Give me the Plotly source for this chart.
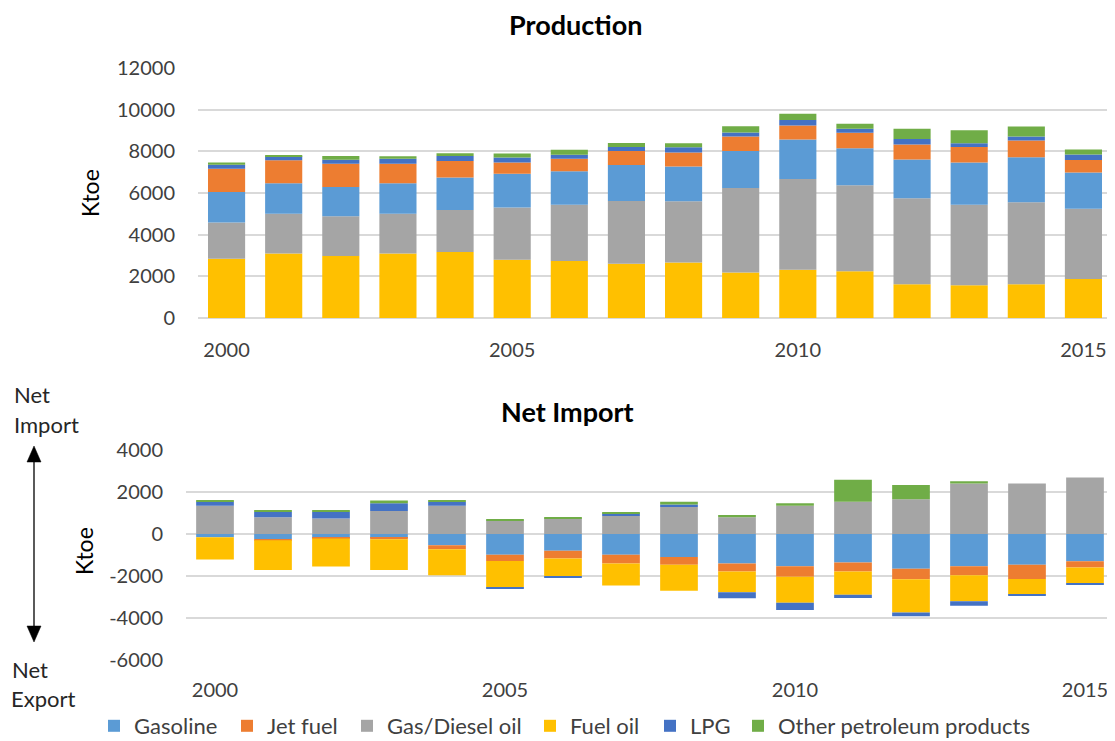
import plotly.graph_objects as go

years = list(range(2000, 2016))

# Production (ktoe)
prod_fuel_oil = [2850, 3100, 2980, 3100, 3170, 2800, 2740, 2610, 2670, 2180, 2320, 2240, 1620, 1570, 1620, 1870]
prod_gas_diesel = [1730, 1900, 1900, 1900, 2020, 2510, 2700, 3010, 2940, 4060, 4350, 4130, 4130, 3870, 3940, 3380]
prod_gasoline = [1470, 1470, 1410, 1470, 1550, 1620, 1600, 1730, 1660, 1780, 1900, 1780, 1860, 2030, 2160, 1730]
prod_jet_fuel = [1120, 1100, 1120, 930, 800, 540, 610, 670, 670, 690, 670, 740, 720, 740, 800, 610]
prod_lpg = [190, 190, 190, 240, 240, 240, 190, 190, 260, 190, 260, 190, 260, 180, 190, 260]
prod_other = [110, 65, 175, 130, 130, 190, 240, 190, 190, 300, 300, 240, 500, 620, 480, 240]

# Net import (ktoe)
imp_gasoline = [-150, -240, -190, -190, -540, -990, -800, -990, -1100, -1410, -1540, -1360, -1660, -1540, -1470, -1300]
imp_jet_fuel = [0, -60, -20, -60, -190, -300, -370, -420, -370, -370, -500, -430, -500, -430, -670, -300]
imp_gas_diesel = [1340, 800, 740, 1100, 1340, 640, 740, 860, 1280, 800, 1340, 1540, 1660, 2400, 2400, 2690]
imp_fuel_oil = [-1060, -1410, -1340, -1460, -1230, -1260, -850, -1040, -1230, -990, -1230, -1100, -1580, -1230, -750, -740]
imp_lpg_pos = [210, 260, 320, 370, 190, 0, 0, 130, 130, 0, 0, 0, 0, 0, 0, 0]
imp_lpg_neg = [0, 0, 0, 0, 0, -70, -60, 0, 0, -290, -350, -160, -180, -220, -50, -60]
imp_other = [50, 60, 60, 130, 60, 50, 60, 60, 130, 110, 130, 1040, 670, 110, 0, 0]

tick_years = [2000, 2005, 2010, 2015]
prod_ticks = [0, 2000, 4000, 6000, 8000, 10000, 12000]
imp_ticks = [-6000, -4000, -2000, 0, 2000, 4000]

legend_names = ["Gasoline", "Jet fuel", "Gas/Diesel oil", "Fuel oil", "LPG", "Other petroleum products"]

C_GASOLINE = "#5B9BD5"
C_JET = "#ED7D31"
C_GASDIESEL = "#A5A5A5"
C_FUEL = "#FFC000"
C_LPG = "#4472C4"
C_OTHER = "#70AD47"

FONT = "Lato"
# page body adds an 8px margin; size the figure to fit the 1115x741 window
OFF = 8
W, H = 1115 - OFF, 741 - OFF

def px_x(x):
    return (x - OFF) / W

def px_y(y):
    return 1 - (y - OFF) / H

fig = go.Figure()

# Production subplot (x, y) - stacking bottom to top
for name, vals, col in [
    ("Fuel oil", prod_fuel_oil, C_FUEL),
    ("Gas/Diesel oil", prod_gas_diesel, C_GASDIESEL),
    ("Gasoline", prod_gasoline, C_GASOLINE),
    ("Jet fuel", prod_jet_fuel, C_JET),
    ("LPG", prod_lpg, C_LPG),
    ("Other petroleum products", prod_other, C_OTHER),
]:
    fig.add_trace(go.Bar(x=years, y=vals, name=name, marker=dict(color=col, line=dict(width=0)),
                         xaxis="x", yaxis="y", showlegend=False, legendgroup=name))

# Net import subplot (x2, y2)
legend_ids = {n: ("legend" if i == 0 else f"legend{i + 1}") for i, n in enumerate(legend_names)}
for name, vals, col, show in [
    ("Gasoline", imp_gasoline, C_GASOLINE, True),
    ("Jet fuel", imp_jet_fuel, C_JET, True),
    ("Gas/Diesel oil", imp_gas_diesel, C_GASDIESEL, True),
    ("Fuel oil", imp_fuel_oil, C_FUEL, True),
    ("LPG", imp_lpg_pos, C_LPG, True),
    ("LPG", imp_lpg_neg, C_LPG, False),
    ("Other petroleum products", imp_other, C_OTHER, True),
]:
    fig.add_trace(go.Bar(x=years, y=vals, name=name, marker=dict(color=col, line=dict(width=0)),
                         xaxis="x2", yaxis="y2", showlegend=show, legendgroup=name,
                         legend=legend_ids[name]))

tickfont = dict(family=FONT, size=20, color="#404040")
grid = "#D9D9D9"

fig.update_layout(
    width=W, height=H,
    barmode="relative",
    bargap=0.35,
    paper_bgcolor="white",
    plot_bgcolor="white",
    margin=dict(l=0, r=0, t=0, b=0, pad=0, autoexpand=False),
    font=dict(family=FONT, size=20, color="#404040"),
    xaxis=dict(domain=[px_x(198), px_x(1112)], range=[1999.5, 2015.5], tickvals=tick_years,
               ticktext=[str(t) for t in tick_years],
               ticks="outside", ticklen=14, tickcolor="rgba(0,0,0,0)", tickfont=tickfont,
               showgrid=False, zeroline=False, showline=False, anchor="y", automargin=False),
    yaxis=dict(domain=[px_y(318), px_y(68)], range=[0, 12000], tickvals=prod_ticks,
               ticktext=[str(t) for t in prod_ticks],
               ticks="outside", ticklen=18, tickcolor="rgba(0,0,0,0)", tickfont=tickfont,
               showgrid=True, gridcolor=grid, gridwidth=2, zeroline=True, zerolinecolor=grid,
               zerolinewidth=2, showline=False, anchor="x", automargin=False),
    xaxis2=dict(domain=[px_x(186), min(1.0, px_x(1114))], range=[1999.5, 2015.5], tickvals=tick_years,
                ticktext=[str(t) for t in tick_years],
                ticks="outside", ticklen=12, tickcolor="rgba(0,0,0,0)", tickfont=tickfont,
                showgrid=False, zeroline=False, showline=False, anchor="y2", automargin=False),
    yaxis2=dict(domain=[px_y(660), px_y(450)], range=[-6000, 4000], tickvals=imp_ticks,
                ticktext=[str(t) for t in imp_ticks],
                ticks="outside", ticklen=18, tickcolor="rgba(0,0,0,0)", tickfont=tickfont,
                showgrid=True, gridcolor=grid, gridwidth=2, zeroline=True, zerolinecolor=grid,
                zerolinewidth=2, showline=False, anchor="x2", automargin=False),
)

# one single-entry legend per series, placed like the reference legend row
legend_text_x = [131, 264, 384, 567, 687, 775]
for i, n in enumerate(legend_names):
    key = "legend" if i == 0 else f"legend{i + 1}"
    fig.layout[key] = dict(orientation="h", x=px_x(legend_text_x[i] - 37), xanchor="left",
                           y=px_y(726), yanchor="middle",
                           font=dict(family=FONT, size=22, color="#404040"),
                           itemwidth=30, bgcolor="rgba(0,0,0,0)")

annotations = [
    dict(text="<b>Production</b>", x=px_x(575), y=px_y(24), font=dict(size=27, color="#000000")),
    dict(text="<b>Net Import</b>", x=px_x(567), y=px_y(411), font=dict(size=27, color="#000000")),
    dict(text="Ktoe", x=px_x(90), y=px_y(193), textangle=-90, font=dict(size=23, color="#000000")),
    dict(text="Ktoe", x=px_x(84), y=px_y(551), textangle=-90, font=dict(size=23, color="#000000")),
    dict(text="Net", x=px_x(12), y=px_y(394), xanchor="left", font=dict(size=22, color="#262626")),
    dict(text="Import", x=px_x(12), y=px_y(424), xanchor="left", font=dict(size=22, color="#262626")),
    dict(text="Net", x=px_x(10), y=px_y(669), xanchor="left", font=dict(size=22, color="#262626")),
    dict(text="Export", x=px_x(9), y=px_y(698), xanchor="left", font=dict(size=22, color="#262626")),
]
for a in annotations:
    a.update(xref="paper", yref="paper", showarrow=False, yanchor="middle",
             xanchor=a.get("xanchor", "center"))
    a["font"]["family"] = FONT
fig.update_layout(annotations=annotations)

# Double-headed arrow
ax = 34
fig.add_shape(type="line", xref="paper", yref="paper", x0=px_x(ax), x1=px_x(ax),
              y0=px_y(460), y1=px_y(628), line=dict(color="black", width=1.3))
for tip, base in [(446, 462), (642, 626)]:
    path = (f"M {px_x(ax)} {px_y(tip)} L {px_x(ax - 7)} {px_y(base)} "
            f"L {px_x(ax + 7)} {px_y(base)} Z")
    fig.add_shape(type="path", xref="paper", yref="paper", path=path,
                  fillcolor="black", line=dict(color="black", width=0.5))

fig.write_html("out.html")
